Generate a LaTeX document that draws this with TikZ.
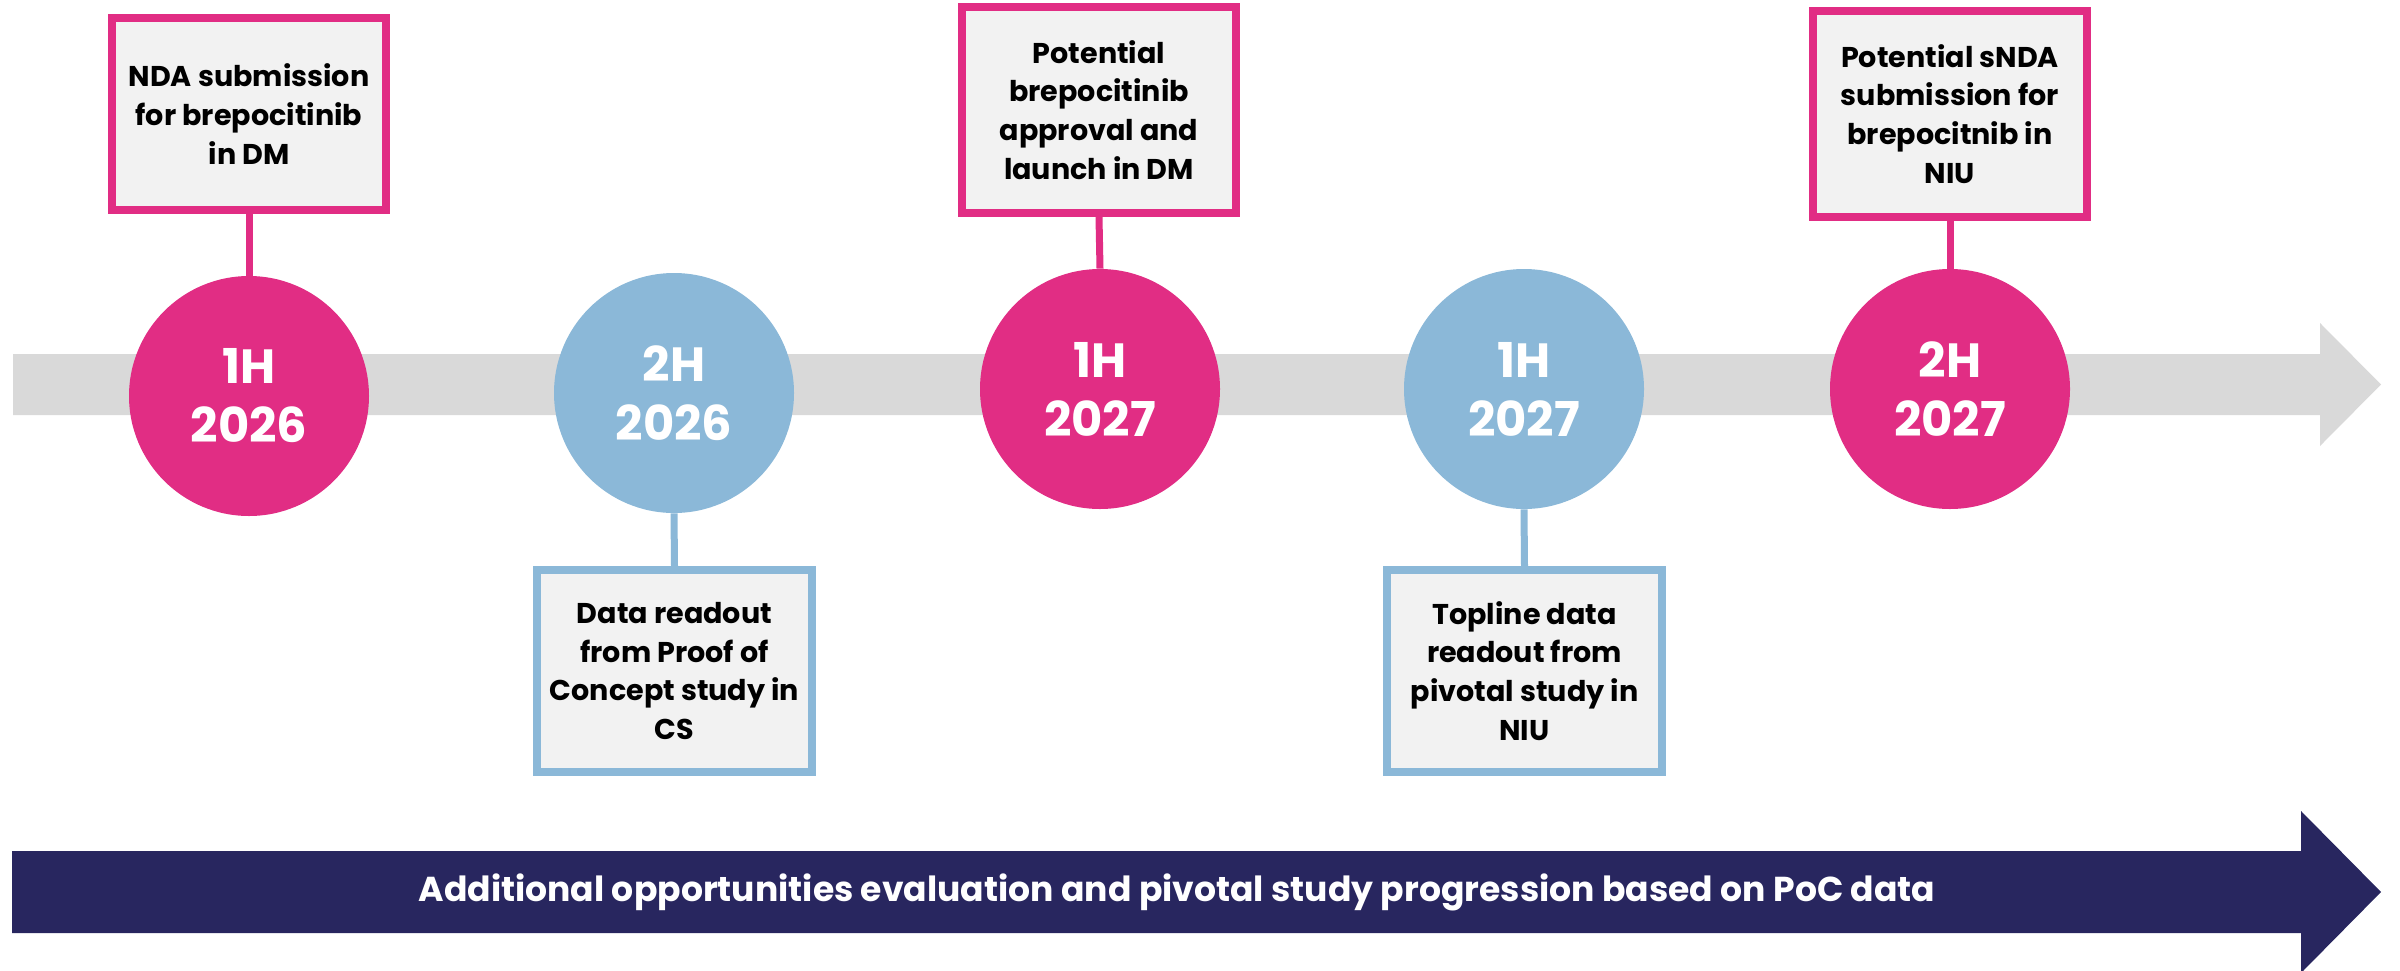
\documentclass[tikz,border=0pt]{standalone}
\usepackage{fontspec}
\setmainfont{Poppins}
\definecolor{pk}{HTML}{E12D84}
\definecolor{bl}{HTML}{8BB8D8}
\definecolor{band}{HTML}{D9D9D9}
\definecolor{boxfill}{HTML}{F2F2F2}
\definecolor{navy}{HTML}{28265F}
\begin{document}
\begin{tikzpicture}[x=0.5pt,y=-0.5pt,
  pkcirc/.style={circle, fill=pk, minimum size=120pt, inner sep=0pt, text=white,
    font=\fontsize{24}{29.5}\selectfont\bfseries, align=center},
  blcirc/.style={pkcirc, fill=bl},
  pkbox/.style={draw=pk, line width=4pt, fill=boxfill, minimum width=137pt,
    minimum height=96pt, inner sep=0pt, align=center,
    font=\fontsize{14.3}{19.4}\selectfont\bfseries},
  blbox/.style={pkbox, draw=bl},
  pkline/.style={draw=pk, line width=3.5pt},
  blline/.style={draw=bl, line width=3.5pt}
]
\useasboundingbox (0,0) rectangle (2400,970);
% grey timeline arrow
\fill[band] (13,354) -- (2320,354) -- (2320,323) -- (2381,384.5) -- (2320,446) -- (2320,415) -- (13,415) -- cycle;
% navy arrow
\fill[navy] (12,851) -- (2301,851) -- (2301,811) -- (2381,892) -- (2301,973) -- (2301,933) -- (12,933) -- cycle;
\node[text=white, font=\fontsize{17.3}{20}\selectfont\bfseries] (bottomtxt) at (1177,892) {Additional opportunities evaluation and pivotal study progression based on PoC data};

% boxes
\node[pkbox] (b1) at (249,114) {NDA submission\\for brepocitinib\\in DM};
\node[pkbox, minimum height=103pt] (b3) at (1099,110) {Potential\\brepocitinib\\approval and\\launch in DM};
\node[pkbox, minimum height=103pt] (b5) at (1950,114) {Potential sNDA\\submission for\\brepocitnib in\\NIU};
\node[blbox, minimum width=137.5pt, minimum height=101pt] (b2) at (674.5,671) {Data readout\\from Proof of\\Concept study in\\CS};
\node[blbox, minimum width=137.5pt, minimum height=101pt] (b4) at (1524.5,671) {Topline data\\readout from\\pivotal study in\\NIU};

% circles
\node[pkcirc] (c1) at (249,396) {1H\\2026};
\node[blcirc] (c2) at (674,393) {2H\\2026};
\node[pkcirc] (c3) at (1100,389) {1H\\2027};
\node[blcirc] (c4) at (1524,389) {1H\\2027};
\node[pkcirc] (c5) at (1950,389) {2H\\2027};

% connectors
\draw[pkline] (b1.south) -- (c1.north);
\draw[pkline] (b3.south) -- (c3.north);
\draw[pkline] (b5.south) -- (c5.north);
\draw[blline] (c2.south) -- (b2.north);
\draw[blline] (c4.south) -- (b4.north);
\end{tikzpicture}
\end{document}
